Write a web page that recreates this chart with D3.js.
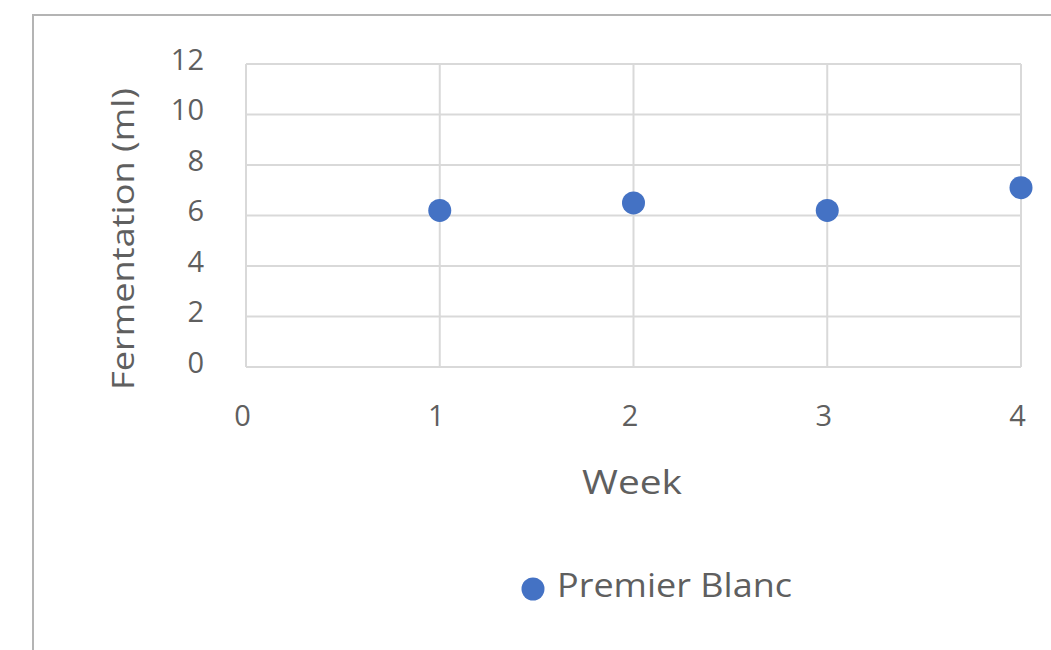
<!DOCTYPE html>
<html><head><meta charset="utf-8">
<script src="https://cdn.jsdelivr.net/npm/d3@7"></script>
<style>html,body{margin:0;padding:0;background:#fff;overflow:hidden}</style>
</head><body>
<svg id="chart" width="1051" height="650"></svg>
<script>
const weeks = [1, 2, 3, 4];
const fermentation = [6.2, 6.5, 6.2, 7.1];
const seriesName = "Premier Blanc";
const xTicks = [0, 1, 2, 3, 4];
const yTicks = [0, 2, 4, 6, 8, 10, 12];
const xTitle = "Week";
const yTitle = "Fermentation (ml)";

const svg = d3.select("#chart");
const font = "'Open Sans', 'Noto Sans', sans-serif";
const textColor = "#5f5f5f";
const blue = "#4472C4";

// chart frame (extends beyond picture at right/bottom)
svg.append("rect").attr("x", 33).attr("y", 15).attr("width", 1040).attr("height", 660)
  .attr("fill", "#fff").attr("stroke", "#b4b4b4").attr("stroke-width", 2);

const x = d3.scaleLinear().domain([0, 4]).range([246, 1021]);
const y = d3.scaleLinear().domain([0, 12]).range([367, 64]);

// gridlines
const g = svg.append("g");
g.selectAll("line.h").data(yTicks).join("line").attr("class", "h")
  .attr("x1", x(0)).attr("x2", x(4)).attr("y1", d => y(d)).attr("y2", d => y(d))
  .attr("stroke", "#d9d9d9").attr("stroke-width", 2);
g.selectAll("line.v").data(xTicks).join("line").attr("class", "v")
  .attr("y1", y(0)).attr("y2", y(12)).attr("x1", d => x(d)).attr("x2", d => x(d))
  .attr("stroke", "#d9d9d9").attr("stroke-width", 2);

// axes (labels only)
const yAxis = d3.axisLeft(y).tickValues(yTicks).tickFormat(d3.format("d")).tickSize(0).tickPadding(42);
const ya = svg.append("g").attr("transform", `translate(${x(0)},0)`).call(yAxis);
ya.select(".domain").remove();
ya.selectAll("text").attr("font-family", font).attr("font-size", 29).attr("fill", textColor).attr("dy", "0.18em");

const xAxis = d3.axisBottom(x).tickValues(xTicks).tickFormat(d3.format("d")).tickSize(0).tickPadding(49);
const xa = svg.append("g").attr("transform", `translate(-4,${y(0)})`).call(xAxis);
xa.select(".domain").remove();
xa.selectAll("text").attr("font-family", font).attr("font-size", 29).attr("fill", textColor).attr("dy", "0.35em");

// axis titles
svg.append("text").attr("x", 632).attr("y", 494).attr("text-anchor", "middle")
  .attr("font-family", font).attr("font-size", 33).attr("fill", textColor)
  .attr("textLength", 100).attr("lengthAdjust", "spacingAndGlyphs").text(xTitle);
svg.append("text").attr("transform", "translate(134,239) rotate(-90)").attr("text-anchor", "middle")
  .attr("font-family", font).attr("font-size", 31).attr("fill", textColor)
  .attr("textLength", 302).attr("lengthAdjust", "spacingAndGlyphs").text(yTitle);

// points
svg.append("g").selectAll("circle").data(weeks).join("circle")
  .attr("cx", d => x(d)).attr("cy", (d, i) => y(fermentation[i])).attr("r", 11.5)
  .attr("fill", blue);

// legend
svg.append("circle").attr("cx", 533).attr("cy", 589).attr("r", 11.5).attr("fill", blue);
svg.append("text").attr("x", 557).attr("y", 597)
  .attr("font-family", font).attr("font-size", 32).attr("fill", textColor)
  .attr("textLength", 235).attr("lengthAdjust", "spacingAndGlyphs").text(seriesName);
</script>
</body></html>
